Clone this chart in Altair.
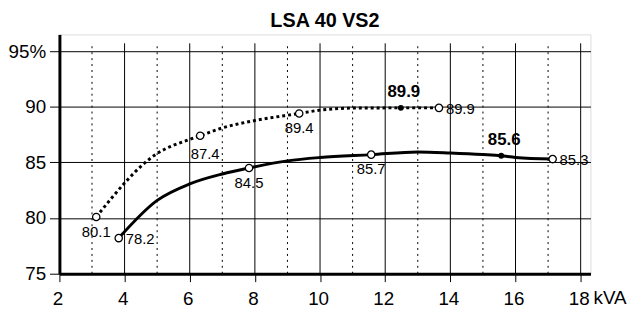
import altair as alt
import pandas as pd

TITLE = "LSA 40 VS2"
x_ticks = [2, 4, 6, 8, 10, 12, 14, 16, 18]
y_ticks = [75, 80, 85, 90, 95]
x_unit = "kVA"
major_x = [4, 6, 8, 10, 12, 14, 16, 18]
minor_x = [3, 5, 7, 9, 11, 13, 15, 17]

# dotted curve: path
dotted_curve_x = [3.13, 5, 6, 6.32, 7, 8, 9.36, 10, 11, 12.48, 13.65]
dotted_curve_y = [80.1, 85.8, 87.07, 87.4, 88.1, 88.76, 89.4, 89.7, 89.88, 89.9, 89.9]
# dotted curve markers
dotted_x = [3.13, 6.32, 9.36, 12.48, 13.65]
dotted_y = [80.1, 87.4, 89.4, 89.9, 89.9]
dotted_kind = ["open", "open", "open", "peak", "open"]
dotted_place = ["below", "below-right", "below", "above", "right"]

# solid curve: path
solid_curve_x = [3.82, 5, 6, 7, 7.82, 9, 10, 11.57, 13, 14, 15, 15.56, 16, 17.14]
solid_curve_y = [78.2, 81.59, 83.07, 83.96, 84.5, 85.14, 85.44, 85.7, 85.94,
                 85.85, 85.71, 85.6, 85.44, 85.3]
# solid curve markers
solid_x = [3.82, 7.82, 11.57, 15.56, 17.14]
solid_y = [78.2, 84.5, 85.7, 85.6, 85.3]
solid_kind = ["open", "open", "open", "peak", "open"]
solid_place = ["right", "below", "below", "above", "right"]

df_dot_curve = pd.DataFrame({"x": dotted_curve_x, "y": dotted_curve_y})
df_sol_curve = pd.DataFrame({"x": solid_curve_x, "y": solid_curve_y})
df_dot = pd.DataFrame({"x": dotted_x, "y": dotted_y, "kind": dotted_kind,
                       "place": dotted_place, "series": "dotted"})
df_sol = pd.DataFrame({"x": solid_x, "y": solid_y, "kind": solid_kind,
                       "place": solid_place, "series": "solid"})
df = pd.concat([df_dot, df_sol], ignore_index=True)

FONT = "Liberation Sans"
x_scale = alt.Scale(domain=[2, 18.3], nice=False, zero=False)
y_scale = alt.Scale(domain=[75, 96.5], nice=False, zero=False)

xaxis = alt.Axis(values=x_ticks, grid=False, domainWidth=3, domainColor="black",
                 tickColor="black", tickSize=8, tickWidth=1, labelFontSize=19,
                 labelPadding=8, labelColor="black", title=None, labelFont=FONT,
                 labelOffset=-2, format="d", labelFlush=False, labelOverlap=False)
yaxis = alt.Axis(values=y_ticks, grid=True, gridColor="black", gridWidth=1,
                 gridOpacity=1, domainWidth=3, domainColor="black", tickSize=10,
                 tickColor="black", tickWidth=1, labelFontSize=19, labelPadding=4,
                 labelColor="black", labelFont=FONT,
                 labelExpr="datum.value == 95 ? '95%' : datum.label",
                 title=None, labelFlush=False, labelOverlap=False)

X = alt.X("x:Q", scale=x_scale, axis=xaxis)
Y = alt.Y("y:Q", scale=y_scale, axis=yaxis)

rules_major = alt.Chart(pd.DataFrame({"x": major_x})).mark_rule(
    color="black", strokeWidth=1).encode(
    x=X, y=alt.YDatum(75, scale=y_scale, axis=yaxis), y2=alt.Y2Datum(95.7))
rules_minor = alt.Chart(pd.DataFrame({"x": minor_x})).mark_rule(
    color="black", strokeWidth=1, strokeDash=[2, 4]).encode(
    x=X, y=alt.YDatum(75, scale=y_scale, axis=yaxis), y2=alt.Y2Datum(95.7))

line_solid = alt.Chart(df_sol_curve).mark_line(
    color="black", strokeWidth=3, interpolate="monotone").encode(x=X, y=Y)
line_dot = alt.Chart(df_dot_curve).mark_line(
    color="black", strokeWidth=3, strokeDash=[3, 3], interpolate="monotone").encode(x=X, y=Y)

pts_open = alt.Chart(df).transform_filter("datum.kind == 'open'").mark_circle(
    size=55, fill="white", stroke="black", strokeWidth=1.3, opacity=1).encode(x=X, y=Y)
pts_peak = alt.Chart(df).transform_filter("datum.kind == 'peak'").mark_circle(
    size=35, color="black", opacity=1).encode(x=X, y=Y)

txt = alt.Text("y:Q", format=".1f")
text_below = alt.Chart(df).transform_filter("datum.place == 'below'").mark_text(
    align="center", baseline="alphabetic", dy=20, fontSize=15, color="black", font=FONT
).encode(x=X, y=Y, text=txt)
text_below_right = alt.Chart(df).transform_filter("datum.place == 'below-right'").mark_text(
    align="center", baseline="alphabetic", dx=5, dy=24, fontSize=15, color="black", font=FONT
).encode(x=X, y=Y, text=txt)
text_right = alt.Chart(df).transform_filter("datum.place == 'right'").mark_text(
    align="left", baseline="alphabetic", dx=7, dy=6, fontSize=15, color="black", font=FONT
).encode(x=X, y=Y, text=txt)
text_above = alt.Chart(df).transform_filter("datum.place == 'above'").mark_text(
    align="center", baseline="alphabetic", dx=3, dy=-11, fontSize=17, fontWeight="bold",
    color="black", font=FONT
).encode(x=X, y=Y, text=txt)

unit_text = alt.Chart(pd.DataFrame({"t": [x_unit]})).mark_text(
    align="left", baseline="top", dx=13, dy=16, fontSize=19, color="black", font=FONT
).encode(x=alt.XDatum(x_ticks[-1], scale=x_scale, axis=xaxis),
         y=alt.YDatum(75, scale=y_scale, axis=yaxis), text="t:N")

chart = alt.layer(
    rules_major, rules_minor, line_solid, line_dot, pts_open, pts_peak,
    text_below, text_below_right, text_right, text_above, unit_text
).properties(
    width=537, height=242,
    autosize=alt.AutoSizeParams(type="none"),
    padding={"left": 52, "top": 25, "right": 40, "bottom": 36},
    title=alt.Title(TITLE, fontSize=20, fontWeight="bold", anchor="middle",
                    offset=3, color="black", font=FONT),
    background="white",
).configure_view(stroke=None).configure(font=FONT)

chart.save("out.html", embed_options={"renderer": "svg", "actions": False})
